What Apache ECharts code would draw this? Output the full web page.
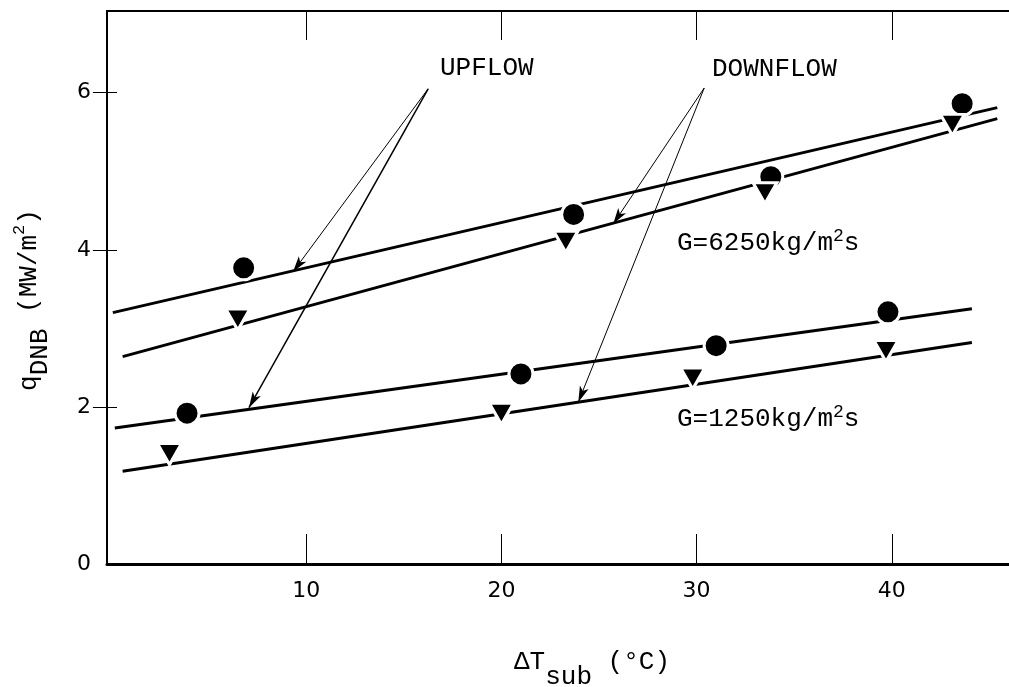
<!DOCTYPE html>
<html>
<head>
<meta charset="utf-8">
<title>q_DNB vs subcooling</title>
<script src="https://cdn.jsdelivr.net/npm/echarts@6/dist/echarts.min.js"></script>
<style>
  html, body { margin: 0; padding: 0; background: #fff; }
  #chart { width: 1009px; height: 687px; }
</style>
</head>
<body>
<div id="chart"></div>
<script>
// measured points: [ΔT_sub (°C), q_DNB (MW/m2)]
const upflowHighG = [[6.8, 3.77], [23.7, 4.45], [33.8, 4.93], [43.6, 5.86]];
const downflowHighG = [[6.5, 3.11], [23.3, 4.10], [33.5, 4.72], [43.1, 5.59]];
const upflowLowG = [[3.9, 1.92], [21.0, 2.42], [31.0, 2.78], [39.8, 3.21]];
const downflowLowG = [[3.0, 1.40], [20.0, 1.91], [29.8, 2.36], [39.7, 2.71]];

// drawn correlation lines (end points)
const fitUpHigh = [[0.1, 3.20], [45.4, 5.81]];
const fitDownHigh = [[0.6, 2.64], [45.4, 5.67]];
const fitUpLow = [[0.2, 1.73], [44.1, 3.25]];
const fitDownLow = [[0.6, 1.18], [44.1, 2.82]];

// tick values
const xTicks = [10, 20, 30, 40];
const yLabels = [0, 2, 4, 6];
const yTicks = [2, 4, 6];

// annotation arrows, [from, to] in data units
const upflowArrows = [[[16.25, 6.05], [9.33, 3.72]], [[16.25, 6.05], [7.07, 1.99]]];
const downflowArrows = [[[30.39, 6.06], [25.73, 4.33]], [[30.39, 6.06], [23.94, 2.06]]];

const mono = "'Liberation Mono', 'DejaVu Sans Mono', monospace";
const sans = "'DejaVu Sans', 'Liberation Sans', sans-serif";
const ink = '#000';

const chart = echarts.init(document.getElementById('chart'));

function fitLine(data) {
  return {
    type: 'line',
    data: data,
    showSymbol: false,
    symbol: 'none',
    silent: true,
    lineStyle: { color: ink, width: 3 },
    z: 2
  };
}

function points(data, circle) {
  return {
    type: 'scatter',
    data: data,
    symbol: circle ? 'circle' : 'triangle',
    symbolSize: circle ? 24 : [24, 21],
    symbolRotate: circle ? 0 : 180,
    silent: true,
    itemStyle: { color: ink, borderColor: '#fff', borderWidth: 3, opacity: 1 },
    z: 4
  };
}

const arrowLines = upflowArrows.concat(downflowArrows).map(function (a, i) {
  return [
    { coord: a[0], lineStyle: { width: i === 1 ? 1.5 : 1 } },
    { coord: a[1] }
  ];
});

const first = fitLine(fitUpHigh);
first.markLine = {
  silent: true,
  symbol: ['none', 'arrow'],
  symbolSize: [7, 16],
  label: { show: false },
  lineStyle: { color: ink, width: 1, type: 'solid' },
  emphasis: { disabled: true },
  data: arrowLines
};

chart.setOption({
  animation: false,
  backgroundColor: '#fff',
  grid: { left: 107, right: 0, top: 11, bottom: 123, containLabel: false, outerBoundsMode: 'none' },
  xAxis: [
    {
      type: 'value', position: 'bottom', min: -0.2, max: 46,
      axisLine: { show: true, onZero: false, lineStyle: { color: ink, width: 3 } },
      axisTick: { show: true, inside: true, length: 30, customValues: xTicks, lineStyle: { color: ink, width: 1 } },
      axisLabel: { customValues: xTicks, margin: 16, color: ink, fontFamily: sans, fontSize: 22 },
      splitLine: { show: false }
    },
    {
      type: 'value', position: 'top', min: -0.2, max: 46,
      axisLine: { show: true, onZero: false, lineStyle: { color: ink, width: 2 } },
      axisTick: { show: true, inside: true, length: 29, customValues: xTicks, lineStyle: { color: ink, width: 1 } },
      axisLabel: { show: false },
      splitLine: { show: false }
    }
  ],
  yAxis: [
    {
      type: 'value', position: 'left', min: 0, max: 7.04,
      axisLine: { show: true, onZero: false, lineStyle: { color: ink, width: 2 } },
      axisTick: { show: true, inside: true, length: 10, customValues: yTicks, lineStyle: { color: ink, width: 1 } },
      axisLabel: { customValues: yLabels, margin: 16, color: ink, fontFamily: sans, fontSize: 22 },
      splitLine: { show: false }
    },
    {
      type: 'value', position: 'right', min: 0, max: 7.04,
      axisLine: { show: false },
      axisTick: { show: true, inside: true, length: 18, customValues: yTicks, lineStyle: { color: ink, width: 1 } },
      axisLabel: { show: false },
      splitLine: { show: false }
    }
  ],
  series: [
    first,
    fitLine(fitDownHigh),
    fitLine(fitUpLow),
    fitLine(fitDownLow),
    points(upflowHighG, true),
    points(downflowHighG, false),
    points(upflowLowG, true),
    points(downflowLowG, false)
  ],
  graphic: [
    {
      type: 'text', x: 29, y: 300, rotation: Math.PI / 2,
      style: {
        text: '{m|q}{s|DNB}{m| (MW/m}{p|2}{m|)}',
        align: 'center', verticalAlign: 'middle',
        rich: {
          m: { fontFamily: mono, fontSize: 26, fill: ink },
          s: { fontFamily: mono, fontSize: 26, fill: ink, padding: [22, 0, 0, 0] },
          p: { fontFamily: mono, fontSize: 17, fill: ink, padding: [0, 0, 20, 0] }
        }
      }
    },
    {
      type: 'text', x: 592, y: 662,
      style: {
        text: '{m|ΔT}{s|sub}{m| (°C)}',
        align: 'center', verticalAlign: 'middle',
        rich: {
          m: { fontFamily: mono, fontSize: 26, fill: ink },
          s: { fontFamily: mono, fontSize: 26, fill: ink, padding: [31, 0, 0, 0] }
        }
      }
    },
    {
      type: 'text', x: 440, y: 68,
      style: { text: 'UPFLOW', fontFamily: mono, fontSize: 26, fill: ink, align: 'left', verticalAlign: 'middle' }
    },
    {
      type: 'text', x: 712, y: 69,
      style: { text: 'DOWNFLOW', fontFamily: mono, fontSize: 26, fill: ink, align: 'left', verticalAlign: 'middle' }
    },
    {
      type: 'text', x: 677, y: 243,
      style: {
        text: '{m|G=6250kg/m}{p|2}{m|s}',
        align: 'left', verticalAlign: 'middle',
        rich: {
          m: { fontFamily: mono, fontSize: 26, fill: ink },
          p: { fontFamily: mono, fontSize: 18, fill: ink, padding: [0, 0, 14, 0] }
        }
      }
    },
    {
      type: 'text', x: 677, y: 419,
      style: {
        text: '{m|G=1250kg/m}{p|2}{m|s}',
        align: 'left', verticalAlign: 'middle',
        rich: {
          m: { fontFamily: mono, fontSize: 26, fill: ink },
          p: { fontFamily: mono, fontSize: 18, fill: ink, padding: [0, 0, 14, 0] }
        }
      }
    }
  ]
});
</script>
</body>
</html>
